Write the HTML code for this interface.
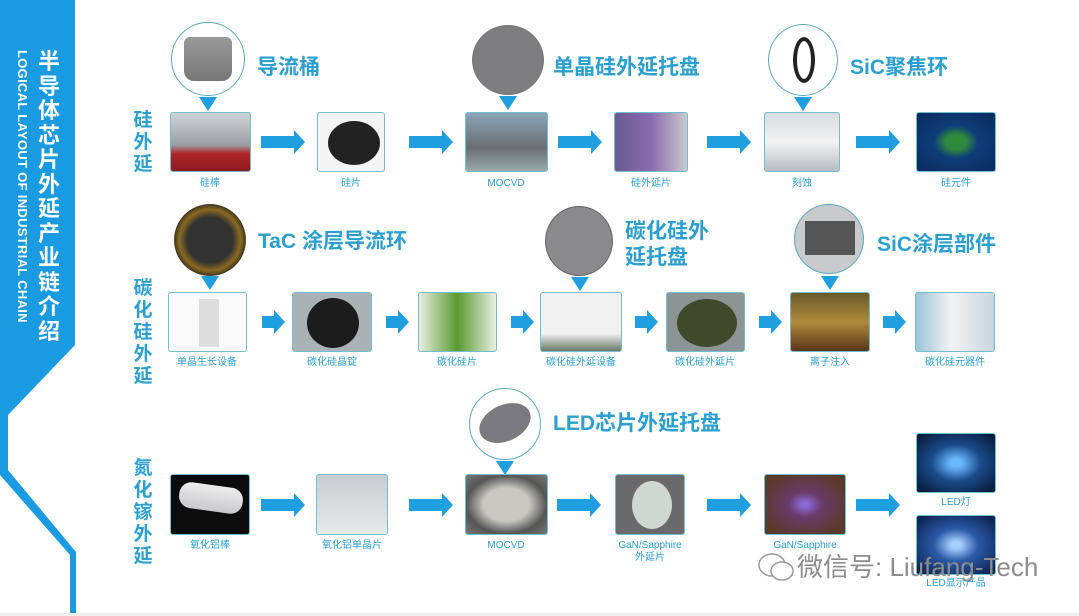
<!DOCTYPE html>
<html><head><meta charset="utf-8"><style>
*{margin:0;padding:0;box-sizing:border-box}
body{width:1079px;height:616px;background:#fff;position:relative;overflow:hidden;font-family:"Liberation Sans","Noto Sans CJK SC",sans-serif}
.b{position:absolute;border:1.5px solid #6fbfd0;border-radius:3px;overflow:hidden}
.l{position:absolute;font-size:10px;color:#2a9fd0;text-align:center;width:110px;line-height:12px}
.ar{position:absolute;height:12px;background:#1f9ee0}
.ar:after{content:"";position:absolute;right:-10px;top:-6px;border-left:11px solid #1f9ee0;border-top:12px solid transparent;border-bottom:12px solid transparent}
.c{position:absolute;border-radius:50%;border:1.5px solid #5aa9bf;background:#fff}
.t{position:absolute;width:0;height:0;border-left:9px solid transparent;border-right:9px solid transparent;border-top:14px solid #1f9ee0}
.h{position:absolute;font-weight:bold;color:#2a9fd0;font-size:21px;white-space:nowrap;line-height:26px}
.v{position:absolute;font-weight:bold;color:#2a9fd0;font-size:19px;width:22px;line-height:22px;text-align:center}
.d{position:absolute;border-radius:50%}
</style></head><body>
<svg width="1079" height="616" style="position:absolute;left:0;top:0">
<path d="M0 0 H75 V345 L8 415 V0 Z" fill="#1a9ae0"/>
<path d="M0 0 H8 V470 L76 552 V616 H70 V555 L0 475 Z" fill="#1a9ae0"/>
</svg>
<div style="position:absolute;left:37px;top:50px;width:24px;color:#fff;font-weight:bold;font-size:22px;line-height:24.5px;text-align:center">半导体芯片外延产业链介绍</div>
<div style="position:absolute;left:13px;top:50px;transform-origin:0 0;transform:translate(17px,0) rotate(90deg);color:#fff;font-size:13px;font-weight:bold;white-space:nowrap;letter-spacing:0.3px">LOGICAL LAYOUT OF INDUSTRIAL CHAIN</div>

<div class="v" style="left:132px;top:110px">硅外延</div>
<div class="v" style="left:132px;top:278px">碳化硅外延</div>
<div class="v" style="left:132px;top:458px">氮化镓外延</div>

<!-- row1 circles -->
<div class="c" style="left:171px;top:22px;width:74px;height:74px"><div style="position:absolute;left:12px;top:14px;width:48px;height:44px;background:linear-gradient(#999,#777);border-radius:6px 6px 10px 10px"></div></div>
<div class="t" style="left:199px;top:97px"></div>
<div class="h" style="left:257px;top:55px">导流桶</div>
<div class="c" style="left:472px;top:25px;width:72px;height:70px;background:#7d7d80;border-color:#777"></div>
<div class="t" style="left:499px;top:96px"></div>
<div class="h" style="left:553px;top:55px">单晶硅外延托盘</div>
<div class="c" style="left:768px;top:24px;width:70px;height:72px"><div class="d" style="left:24px;top:12px;width:22px;height:46px;border:4px solid #222"></div></div>
<div class="t" style="left:794px;top:97px"></div>
<div class="h" style="left:850px;top:55px">SiC聚焦环</div>

<!-- row1 boxes -->
<div class="b" style="left:170px;top:112px;width:81px;height:60px;background:linear-gradient(#cfd3d6 0%,#9aa0a6 55%,#b0262a 70%,#8a1a1e 100%)"></div>
<div class="b" style="left:317px;top:112px;width:68px;height:60px;background:#f4f4f4"><div class="d" style="left:10px;top:8px;width:52px;height:44px;background:#222"></div></div>
<div class="b" style="left:465px;top:112px;width:83px;height:60px;background:linear-gradient(#8aa4b8,#6a6e72 60%,#9aa)"></div>
<div class="b" style="left:614px;top:112px;width:74px;height:60px;background:linear-gradient(90deg,#6a5a90,#8a6bb0 50%,#c8c8cc)"></div>
<div class="b" style="left:764px;top:112px;width:76px;height:60px;background:linear-gradient(#d9dcde,#f2f2f2 50%,#b8bcc0)"></div>
<div class="b" style="left:916px;top:112px;width:80px;height:60px;background:radial-gradient(#2e8a3a 18%,#0f3d7a 40%,#0a2a5c)"></div>
<div class="l" style="left:155px;top:178px">硅棒</div>
<div class="l" style="left:296px;top:178px">硅片</div>
<div class="l" style="left:451px;top:178px">MOCVD</div>
<div class="l" style="left:596px;top:178px">硅外延片</div>
<div class="l" style="left:747px;top:178px">刻蚀</div>
<div class="l" style="left:901px;top:178px">硅元件</div>
<div class="ar" style="left:261px;top:136px;width:34px"></div>
<div class="ar" style="left:409px;top:136px;width:34px"></div>
<div class="ar" style="left:558px;top:136px;width:34px"></div>
<div class="ar" style="left:707px;top:136px;width:34px"></div>
<div class="ar" style="left:856px;top:136px;width:34px"></div>

<!-- row2 circles -->
<div class="c" style="left:174px;top:204px;width:72px;height:72px;background:radial-gradient(#333 45%,#8a6a20 60%,#222 75%);border:none"></div>
<div class="t" style="left:201px;top:276px"></div>
<div class="h" style="left:258px;top:229px">TaC 涂层导流环</div>
<div class="c" style="left:545px;top:206px;width:68px;height:70px;background:#8a8a8c;border-color:#666"></div>
<div class="t" style="left:571px;top:277px"></div>
<div class="h" style="left:625px;top:219px;line-height:26px">碳化硅外<br>延托盘</div>
<div class="c" style="left:794px;top:204px;width:70px;height:70px;background:#c8cacc"><div style="position:absolute;left:10px;top:16px;width:50px;height:34px;background:#555"></div></div>
<div class="t" style="left:821px;top:276px"></div>
<div class="h" style="left:877px;top:232px">SiC涂层部件</div>

<!-- row2 boxes -->
<div class="b" style="left:168px;top:292px;width:79px;height:60px;background:#fafafa"><div style="position:absolute;left:30px;top:6px;width:20px;height:48px;background:#ddd"></div></div>
<div class="b" style="left:292px;top:292px;width:80px;height:60px;background:#aab2b6"><div class="d" style="left:14px;top:5px;width:52px;height:50px;background:#1c1c1c"></div></div>
<div class="b" style="left:418px;top:292px;width:79px;height:60px;background:linear-gradient(90deg,#e8eee0,#5a9a30 50%,#e8f0e4)"></div>
<div class="b" style="left:540px;top:292px;width:82px;height:60px;background:linear-gradient(#f0f0f0 70%,#6a7868)"></div>
<div class="b" style="left:666px;top:292px;width:79px;height:60px;background:#8c9494"><div class="d" style="left:10px;top:6px;width:60px;height:48px;background:#3e4a2a"></div></div>
<div class="b" style="left:790px;top:292px;width:80px;height:60px;background:linear-gradient(#6a5a2a,#b08a3a 50%,#5a3418)"></div>
<div class="b" style="left:915px;top:292px;width:80px;height:60px;background:linear-gradient(90deg,#9cc4d8,#f2f2f2 45%,#c8d6e0)"></div>
<div class="l" style="left:152px;top:357px">单晶生长设备</div>
<div class="l" style="left:277px;top:357px">碳化硅晶锭</div>
<div class="l" style="left:402px;top:357px">碳化硅片</div>
<div class="l" style="left:526px;top:357px">碳化硅外延设备</div>
<div class="l" style="left:650px;top:357px">碳化硅外延片</div>
<div class="l" style="left:775px;top:357px">离子注入</div>
<div class="l" style="left:900px;top:357px">碳化硅元器件</div>
<div class="ar" style="left:262px;top:316px;width:13px"></div>
<div class="ar" style="left:386px;top:316px;width:13px"></div>
<div class="ar" style="left:511px;top:316px;width:13px"></div>
<div class="ar" style="left:635px;top:316px;width:13px"></div>
<div class="ar" style="left:759px;top:316px;width:13px"></div>
<div class="ar" style="left:883px;top:316px;width:13px"></div>

<!-- row3 -->
<div class="c" style="left:469px;top:388px;width:72px;height:72px"><div class="d" style="left:8px;top:16px;width:54px;height:36px;background:#7a7a80;transform:rotate(-25deg)"></div></div>
<div class="t" style="left:496px;top:461px"></div>
<div class="h" style="left:553px;top:411px">LED芯片外延托盘</div>

<div class="b" style="left:170px;top:474px;width:80px;height:61px;background:#0c0c0c"><div style="position:absolute;left:8px;top:10px;width:64px;height:26px;background:linear-gradient(#eee,#c8c8cc);border-radius:12px;transform:rotate(8deg)"></div></div>
<div class="b" style="left:316px;top:474px;width:72px;height:61px;background:linear-gradient(#c8ccce,#e8eaea)"></div>
<div class="b" style="left:465px;top:474px;width:83px;height:61px;background:radial-gradient(#c8c8c0 40%,#555 70%,#777)"></div>
<div class="b" style="left:615px;top:474px;width:70px;height:61px;background:#6a6a6c"><div class="d" style="left:16px;top:6px;width:40px;height:48px;background:#cfd8d0"></div></div>
<div class="b" style="left:764px;top:474px;width:82px;height:61px;background:radial-gradient(#8a6ad8 5%,#6a3a6a 30%,#5a3a2a 80%)"></div>
<div class="b" style="left:916px;top:433px;width:80px;height:60px;background:radial-gradient(#6ab8ff 10%,#1a4a8a 45%,#061630)"></div>
<div class="b" style="left:916px;top:515px;width:80px;height:60px;background:radial-gradient(#a8d0ff 8%,#2a5aa8 40%,#0a1a44)"></div>
<div class="l" style="left:155px;top:540px">氧化铝棒</div>
<div class="l" style="left:297px;top:540px">氧化铝单晶片</div>
<div class="l" style="left:451px;top:540px">MOCVD</div>
<div class="l" style="left:595px;top:540px">GaN/Sapphire<br>外延片</div>
<div class="l" style="left:750px;top:540px">GaN/Sapphire</div>
<div class="l" style="left:901px;top:497px">LED灯</div>
<div class="l" style="left:901px;top:578px">LED显示产品</div>
<div class="ar" style="left:261px;top:499px;width:34px"></div>
<div class="ar" style="left:409px;top:499px;width:34px"></div>
<div class="ar" style="left:557px;top:499px;width:34px"></div>
<div class="ar" style="left:707px;top:499px;width:34px"></div>
<div class="ar" style="left:856px;top:499px;width:34px"></div>

<!-- watermark -->
<svg style="position:absolute;left:757px;top:551px" width="40" height="34"><ellipse cx="15" cy="14" rx="13" ry="11" fill="none" stroke="#999" stroke-width="1.5"/><ellipse cx="25" cy="20" rx="11" ry="9" fill="#fff" stroke="#999" stroke-width="1.5"/></svg>
<div style="position:absolute;left:797px;top:552px;font-size:26px;color:#8c8c8c;white-space:nowrap;line-height:30px">微信号: Liufang-Tech</div>
<div style="position:absolute;left:0;top:613px;width:1079px;height:3px;background:#eee"></div>
</body></html>
